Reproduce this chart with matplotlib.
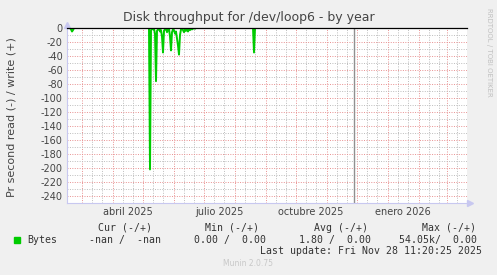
import numpy as np
import pandas as pd
import matplotlib
matplotlib.use("Agg")
from matplotlib import pyplot as plt
import matplotlib.dates as mdates
from matplotlib.ticker import MultipleLocator

# read (-) series, daily averages, only days that differ from 0 plus anchors
read_dates = ["2025-02-14", "2025-02-17", "2025-02-18", "2025-02-19", "2025-02-20", "2025-02-21",
              "2025-05-06", "2025-05-07", "2025-05-08", "2025-05-09", "2025-05-10", "2025-05-11",
              "2025-05-12", "2025-05-13", "2025-05-14", "2025-05-15", "2025-05-16", "2025-05-17",
              "2025-05-18", "2025-05-19", "2025-05-20", "2025-05-21", "2025-05-22", "2025-05-23",
              "2025-05-24", "2025-05-25", "2025-05-26", "2025-05-27", "2025-05-28", "2025-05-29",
              "2025-05-30", "2025-05-31", "2025-06-01", "2025-06-02", "2025-06-03", "2025-06-04",
              "2025-06-05", "2025-06-06", "2025-06-07", "2025-06-08", "2025-06-09", "2025-06-10",
              "2025-06-11", "2025-06-12", "2025-06-13", "2025-06-14", "2025-06-15", "2025-06-16",
              "2025-06-17", "2025-06-18", "2025-06-19", "2025-06-20", "2025-06-21", "2025-06-22",
              "2025-06-23", "2025-08-18", "2025-08-19", "2025-08-20", "2025-08-21", "2025-08-22",
              "2025-11-28"]
read_vals = [0, 0, -2, -5, -3, 0,
             0, 0, -202, -3, -1, -2,
             -1, -8, -76, -4, -2, -1,
             -5, -3, -12, -35, -4, -2,
             0, -6, -2, -1, -12, -32,
             -6, -2, -3, -8, -5, -15,
             -25, -38, -10, -2, -1, -3,
             -6, -2, -4, -1, -5, -2,
             -3, -1, -2, -1, 0, -1,
             0, 0, 0, -35, 0, 0,
             0]

now = "2025-11-28"
x_start, x_end = "2025-02-14", "2026-03-21"
xlabel_dates = ["2025-04-16", "2025-07-16", "2025-10-16", "2026-01-16"]
xlabels = ["abril 2025", "julio 2025", "octubre 2025", "enero 2026"]
yticks = list(range(0, -241, -20))

fig = plt.figure(figsize=(4.97, 2.75), dpi=100, facecolor="#f0f0f0")
ax = fig.add_axes([67/497, 1-203/275, 400/497, 175/275], facecolor="white")

d = pd.to_datetime(read_dates)
xs, xe = pd.Timestamp(x_start), pd.Timestamp(x_end)

# grid: red at month starts, gray at 11th / 21st
dots = (0, (1, 1.5))
for m in pd.date_range(xs, xe, freq="MS"):
    ax.axvline(m, color="#e89090", lw=0.7, ls=dots, zorder=1)
    for day in (10, 20):
        t = m + pd.Timedelta(days=day)
        if t < xe:
            ax.axvline(t, color="#bcbcbc", lw=0.7, ls=dots, zorder=1)
for v in range(-250, 1, 10):
    col = "#e89090" if v % 20 == 0 else "#bcbcbc"
    ax.axhline(v, color=col, lw=0.7, ls=dots, zorder=1)

ax.plot(d, read_vals, color="#00cc00", lw=1.4, zorder=3)
ax.axhline(0, color="black", lw=0.9, zorder=4, clip_on=False)
ax.axvline(pd.Timestamp(now), color="#909090", lw=1.0, zorder=2)

ax.set_xlim(xs, xe)
ax.set_ylim(-250, 0)
ax.set_xticks(pd.to_datetime(xlabel_dates))
ax.set_xticklabels(xlabels)
ax.set_yticks(yticks)
ax.set_yticklabels([str(v) for v in yticks])
ax.tick_params(length=0, labelsize=7, colors="#444444", pad=3)

for s in ("top", "right"):
    ax.spines[s].set_visible(False)
for s in ("left", "bottom"):
    ax.spines[s].set_color("#c8c8f0")
    ax.spines[s].set_linewidth(0.8)
ax.plot([0], [1.02], marker="^", ms=4, color="#c8c8f0", transform=ax.transAxes, clip_on=False)
ax.plot([1.008], [0], marker=">", ms=4, color="#c8c8f0", transform=ax.transAxes, clip_on=False)

fig.text(249/497, 1-18/275, "Disk throughput for /dev/loop6 - by year", ha="center", va="center",
         fontsize=9, color="#444444")
fig.text(12/497, 1-117/275, "Pr second read (-) / write (+)", rotation=90, ha="center", va="center",
         fontsize=8, color="#444444")
fig.text(489/497, 1-52/275, "RRDTOOL / TOBI OETIKER", rotation=270, ha="center", va="center",
         fontsize=5, color="#c0c0c0")

mono = dict(family="DejaVu Sans Mono", fontsize=7.1, color="#333333", va="center")
fig.text(152/497, 1-228/275, "Cur (-/+)", ha="right", **mono)
fig.text(259/497, 1-228/275, "Min (-/+)", ha="right", **mono)
fig.text(368/497, 1-228/275, "Avg (-/+)", ha="right", **mono)
fig.text(476/497, 1-228/275, "Max (-/+)", ha="right", **mono)
fig.text(27/497, 1-240/275, "Bytes", ha="left", **mono)
fig.text(161/497, 1-240/275, "-nan /  -nan", ha="right", **mono)
fig.text(266/497, 1-240/275, "0.00 /  0.00", ha="right", **mono)
fig.text(371/497, 1-240/275, "1.80 /  0.00", ha="right", **mono)
fig.text(477/497, 1-240/275, "54.05k/  0.00", ha="right", **mono)
fig.text(482/497, 1-251/275, "Last update: Fri Nov 28 11:20:25 2025", ha="right", **mono)
fig.patches.append(plt.Rectangle((14/497, 1-242.5/275), 5.5/497, 5.5/275, color="#00cc00",
                                 transform=fig.transFigure, figure=fig))
fig.text(248/497, 1-264/275, "Munin 2.0.75", ha="center", va="center", fontsize=5.5, color="#c8c8c8")

fig.savefig("out.png", dpi=100, facecolor=fig.get_facecolor())
